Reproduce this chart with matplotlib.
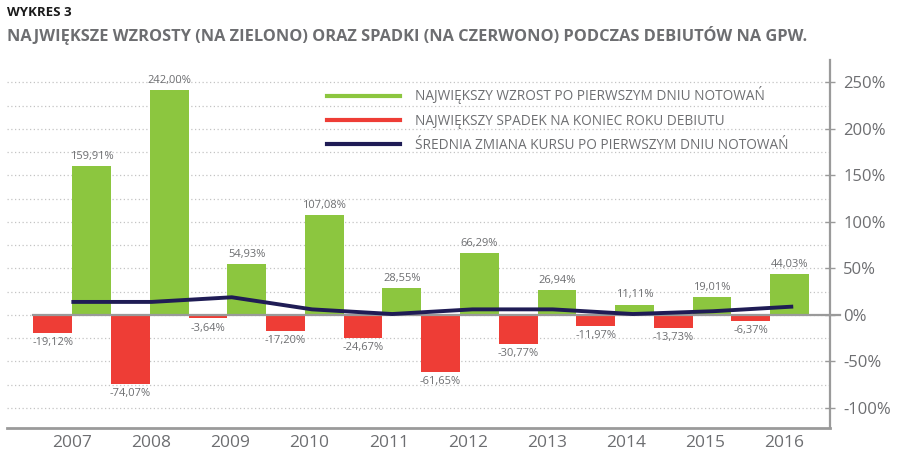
import numpy as np
import matplotlib
matplotlib.use("Agg")
import matplotlib.pyplot as plt
from matplotlib.ticker import MultipleLocator, FuncFormatter
from matplotlib.lines import Line2D

years = ["2007", "2008", "2009", "2010", "2011", "2012", "2013", "2014", "2015", "2016"]
gains = [159.91, 242.00, 54.93, 107.08, 28.55, 66.29, 26.94, 11.11, 19.01, 44.03]
drops = [-19.12, -74.07, -3.64, -17.20, -24.67, -61.65, -30.77, -11.97, -13.73, -6.37]
average = [14, 14, 19, 6, 1, 6, 6, 1, 4, 9]

legend_labels = [
    "NAJWIĘKSZY WZROST PO PIERWSZYM DNIU NOTOWAŃ",
    "NAJWIĘKSZY SPADEK NA KONIEC ROKU DEBIUTU",
    "ŚREDNIA ZMIANA KURSU PO PIERWSZYM DNIU NOTOWAŃ",
]
title = "WYKRES 3"
subtitle = "NAJWIĘKSZE WZROSTY (NA ZIELONO) ORAZ SPADKI (NA CZERWONO) PODCZAS DEBIUTÓW NA GPW."

GREEN = "#8cc63f"
RED = "#ee3d36"
NAVY = "#1f1c55"
GRAY = "#6d6e71"
AXGRAY = "#9a9a9a"

plt.rcParams["font.family"] = ["Open Sans", "DejaVu Sans"]

fig = plt.figure(figsize=(8.98, 4.59), dpi=100)
ax = fig.add_axes([7 / 898, 1 - 428 / 459, (830 - 7) / 898, (428 - 60) / 459])

x = np.arange(len(years))
w = 0.5
ax.bar(x, gains, width=w, align="edge", color=GREEN, zorder=2)
ax.bar(x, drops, width=-w, align="edge", color=RED, zorder=2)

line_x = x * 1.034 - 0.01
ax.plot(line_x, average, color=NAVY, lw=2.8, solid_joinstyle="round",
        solid_capstyle="butt", zorder=4)

for xi, g in zip(x, gains):
    ax.annotate(f"{g:.2f}%".replace(".", ","), (xi + w / 2, g), xytext=(0, 3),
                textcoords="offset points", ha="center", va="bottom",
                fontsize=8, color=GRAY, zorder=5)
for xi, d in zip(x, drops):
    ax.annotate(f"{d:.2f}%".replace(".", ","), (xi - w / 2, d), xytext=(0, -3),
                textcoords="offset points", ha="center", va="top",
                fontsize=8, color=GRAY, zorder=5)

ax.axhline(0, xmin=(33 - 7) / 823, xmax=(840 - 7) / 823, color=AXGRAY, lw=1.6,
           clip_on=False, zorder=3)

ax.set_xlim(-0.84, 9.77)
ax.set_ylim(-121.5, 274)

ax.yaxis.set_major_locator(MultipleLocator(50))
ax.yaxis.tick_right()
ax.yaxis.set_major_formatter(FuncFormatter(lambda v, p: f"{v:.0f}%" if -100 <= v <= 250 else ""))
ax.tick_params(axis="y", which="major", direction="inout", length=7, width=1,
               color=AXGRAY, labelsize=12, labelcolor=GRAY, pad=6)
ax.tick_params(axis="y", which="minor", length=0)
ax.set_yticks(np.arange(-100, 251, 25), minor=True)
ax.grid(axis="y", which="both", linestyle=(0, (1, 2)), color="#c4c4c4", lw=0.9, zorder=0)

ax.set_xticks(x * 1.02)
ax.set_xticklabels(years)
ax.tick_params(axis="x", length=0, labelsize=12.5, labelcolor=GRAY, pad=5)

for s in ["top", "left"]:
    ax.spines[s].set_visible(False)
ax.spines["bottom"].set_color(AXGRAY)
ax.spines["bottom"].set_linewidth(2)
ax.spines["right"].set_color(AXGRAY)
ax.spines["right"].set_linewidth(1.6)

handles = [Line2D([], [], color=c, lw=3) for c in (GREEN, RED, NAVY)]
leg = ax.legend(handles, legend_labels, loc="upper left",
                bbox_to_anchor=((322 - 7) / 823, (428 - 81) / 368),
                frameon=False, fontsize=9.8, handlelength=5.3, handletextpad=1.15,
                labelspacing=0.68, borderaxespad=0)
for t in leg.get_texts():
    t.set_color(GRAY)

fig.text(7 / 898, 1 - 6 / 459, title, ha="left", va="top", fontsize=9.5,
         fontweight="bold", color="#1a1a1a")
fig.text(7 / 898, 1 - 26 / 459, subtitle, ha="left", va="top", fontsize=11.8,
         fontweight="bold", color=GRAY)

fig.savefig("out.png", dpi=100)
